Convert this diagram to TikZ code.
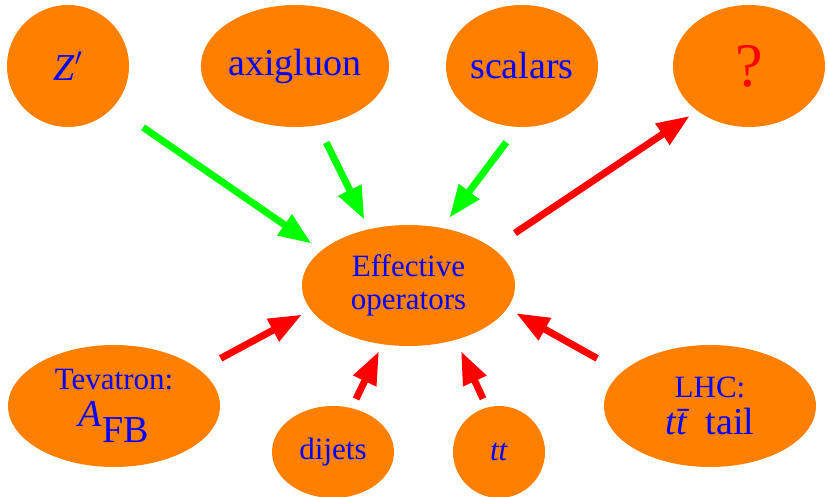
\documentclass[tikz,border=0pt]{standalone}
\usepackage{fontspec}
\setmainfont{LiberationSerif}[Extension=.ttf, UprightFont=*-Regular, ItalicFont=*-Italic, BoldFont=*-Bold, BoldItalicFont=*-BoldItalic]
\usetikzlibrary{arrows.meta,shapes.geometric}
\definecolor{blobfill}{RGB}{255,128,0}
\definecolor{pushgreen}{RGB}{0,255,0}
\definecolor{pullred}{RGB}{255,0,0}
\newcommand{\bigtxt}{\fontsize{38}{37}\selectfont}
\newcommand{\smalltxt}{\fontsize{31}{33}\selectfont}

\begin{document}
\begin{tikzpicture}[x=1pt,y=-1pt,
  blob/.style={ellipse, fill=blobfill, text=blue, inner sep=0pt, align=center},
  feed/.style={line width=7pt, -{Triangle[length=33pt,width=24pt]}},
  greenfeed/.style={feed, pushgreen},
  redfeed/.style={feed, pullred}]
\useasboundingbox (0,0) rectangle (827,497);
% models on top
\node[blob, minimum width=122pt, minimum height=122pt, font=\bigtxt] (zp) at (68,66) {$\textit{Z}'$};
\node[blob, minimum width=168pt, minimum height=122pt, font=\bigtxt] (axi) at (295,66) {axigluon};
\node[blob, minimum width=152pt, minimum height=122pt, font=\bigtxt] (sca) at (522,66) {scalars};
\node[blob, minimum width=152pt, minimum height=122pt, font=\fontsize{62}{64}\selectfont, text=pullred] (unk) at (749,66) {?};
% centre
\node[blob, minimum width=213pt, minimum height=121pt, font=\smalltxt] (eo) at (408.5,285.5) {Effective\\operators};
% data below
\node[blob, minimum width=212pt, minimum height=122pt, font=\bigtxt] (tev) at (114,406)
  {{\smalltxt Tevatron:}\\$\textit{A}_{\textrm{FB}}$};
\node[blob, minimum width=122pt, minimum height=92pt, font=\smalltxt] (dij) at (333,452) {dijets};
\node[blob, minimum width=92pt, minimum height=92pt, font=\smalltxt] (tt) at (499,452) {\textit{tt}};
\node[blob, minimum width=212pt, minimum height=122pt, font=\bigtxt] (lhc) at (710,406)
  {{\smalltxt LHC:}\\\textit{t\={t}} tail};
% models feed the operators
\draw[greenfeed, shorten <=36pt, shorten >=12pt] (zp.-42) -- (eo.158);
\draw[greenfeed, shorten <=19pt, shorten >=10.5pt] (axi.-69) -- (eo.125);
\draw[greenfeed, shorten <=19pt, shorten >=12.5pt] (sca.-94) -- (eo.60);
\draw[redfeed, shorten <=27pt, shorten >=9pt] (eo.24) -- (unk.-139);
% constraints
\draw[redfeed, shorten <=24pt, shorten >=10pt] (tev.23) -- (eo.194);
\draw[redfeed, shorten <=10pt, shorten >=7.7pt] (dij.67) -- (eo.-114);
\draw[redfeed, shorten <=9.5pt, shorten >=12.4pt] (tt.105) -- (eo.-49);
\draw[redfeed, shorten <=28pt, shorten >=10pt] (lhc.159) -- (eo.-13);
\end{tikzpicture}
\end{document}
